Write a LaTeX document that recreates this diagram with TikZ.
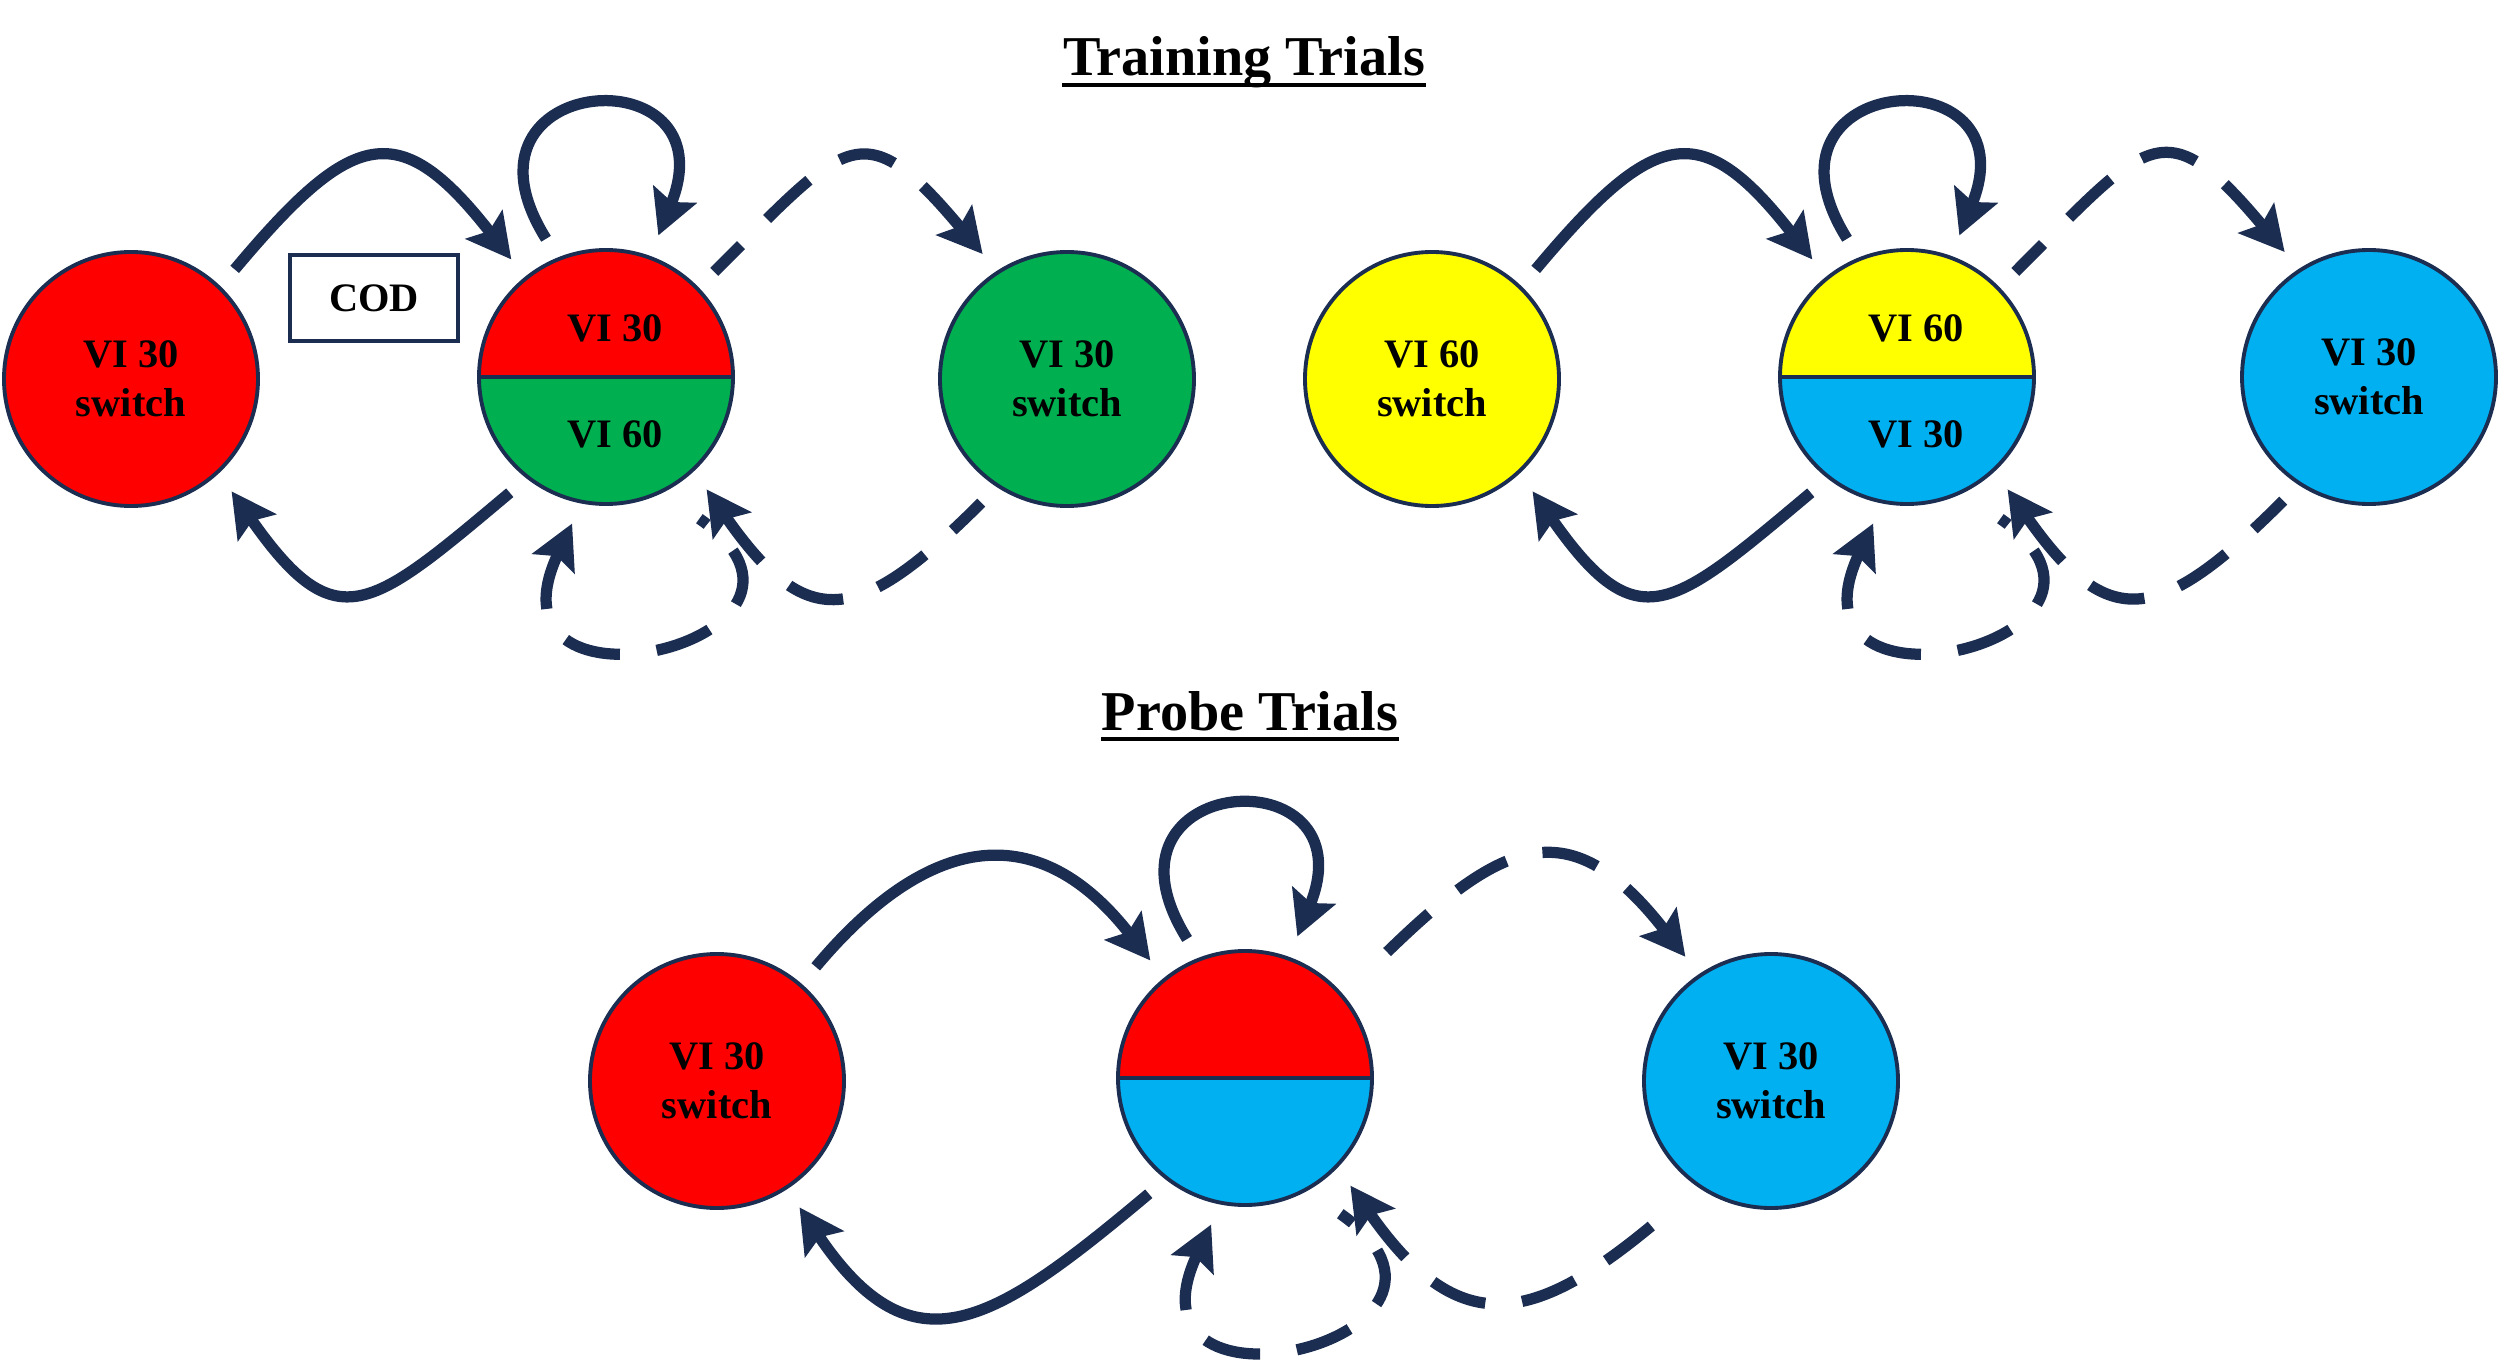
\documentclass[tikz,border=0pt]{standalone}
\usepackage{fontspec}
\setmainfont{Liberation Serif}
\usepackage{tikz}
\usetikzlibrary{calc}
\usetikzlibrary{arrows.meta}
\definecolor{navy}{RGB}{28,45,82}
\definecolor{vired}{RGB}{255,0,0}
\definecolor{vigreen}{RGB}{0,176,80}
\definecolor{viyellow}{RGB}{255,255,0}
\definecolor{viblue}{RGB}{0,176,240}
\newcommand{\statefont}{\fontsize{11.5}{13.9}\selectfont\bfseries}
\newcommand{\titlefont}{\fontsize{16}{19}\selectfont\bfseries}
\tikzset{
    state/.style={
        circle,
        draw=navy,
        line width=1.1pt,
        minimum size=2.54cm,
        inner sep=0pt,
        align=center,
        font=\statefont
    },
    % circle split in two colours, top one first
    halfstate/.style 2 args={
        state,
        fill=#2,
        path picture={
            \fill[#1] (path picture bounding box.north west) rectangle (path picture bounding box.east);
            \draw[navy,line width=1.1pt] (path picture bounding box.west) -- (path picture bounding box.east);
        }
    },
    lbl/.style={inner sep=0pt, font=\statefont},
    ttl/.style={inner sep=0pt, anchor=base, font=\titlefont},
    uline/.style={line width=1.2pt, black},
    codbox/.style={draw=navy, line width=1pt, minimum width=1.68cm, minimum height=0.86cm, font=\statefont},
    solidarrow/.style={
        navy,
        line width=3.2pt,
        -{Stealth[length=0.44cm, width=0.46cm, inset=0.08cm]},
        shorten <=0.22cm,
        shorten >=0.22cm
    },
    % drawn from head to tail, so that the dashes start at the head
    dashedarrow/.style={
        navy,
        line width=3.2pt,
        {Stealth[length=0.44cm, width=0.46cm, inset=0.08cm]}-,
        shorten <=0.22cm,
        shorten >=0.22cm,
        dash pattern=on 0.57cm off 0.37cm
    }
}
\begin{document}
\begin{tikzpicture}
    \useasboundingbox (0,0) rectangle (25,-13.6);

    % titles
    \node[ttl] (ttl1) at (12.44,-0.76) {Training Trials};
    \draw[uline] ([yshift=-0.09cm]ttl1.base west) -- ([yshift=-0.09cm]ttl1.base east);
    \node[ttl] (ttl2) at (12.50,-7.30) {Probe Trials};
    \draw[uline] ([yshift=-0.09cm]ttl2.base west) -- ([yshift=-0.09cm]ttl2.base east);

    % training, left
    \node[state,fill=vired] (L1) at (1.31,-3.79) {VI 30\\switch};
    \node[halfstate={vired}{vigreen}] (M1) at (6.06,-3.77) {};
    \node[lbl] (M1a) at ($(M1)+(0.09,0.49)$) {VI 30};
    \node[lbl] (M1b) at ($(M1)+(0.09,-0.57)$) {VI 60};
    \node[state,fill=vigreen] (R1) at (10.67,-3.79) {VI 30\\switch};
    \node[codbox] (cod) at (3.74,-2.98) {COD};

    \draw[solidarrow] (L1.46) to[out=50,in=128,looseness=1.72] (M1.129);
    \draw[solidarrow] (M1.232) to[out=-140,in=-55,looseness=1.7] (L1.313);
    \draw[solidarrow] (M1.112) to[out=122,in=68,distance=2.2cm] (M1.70);
    \draw[dashedarrow] (R1.123) to[out=130,in=45,looseness=1.8] (M1.44);
    \draw[dashedarrow] (M1.313) to[out=-55,in=-135,looseness=1.66] (R1.237);
    \draw[dashedarrow,shorten >=0.45cm] (M1.259) to[out=-115,in=-35,distance=2.55cm] (M1.296);

    % training, right
    \node[state,fill=viyellow] (L2) at (14.32,-3.79) {VI 60\\switch};
    \node[halfstate={viyellow}{viblue}] (M2) at (19.07,-3.77) {};
    \node[lbl] (M2a) at ($(M2)+(0.09,0.49)$) {VI 60};
    \node[lbl] (M2b) at ($(M2)+(0.09,-0.57)$) {VI 30};
    \node[state,fill=viblue] (R2) at (23.69,-3.77) {VI 30\\switch};

    \draw[solidarrow] (L2.46) to[out=50,in=128,looseness=1.72] (M2.129);
    \draw[solidarrow] (M2.232) to[out=-140,in=-55,looseness=1.7] (L2.313);
    \draw[solidarrow] (M2.112) to[out=122,in=68,distance=2.2cm] (M2.70);
    \draw[dashedarrow] (R2.123) to[out=130,in=45,looseness=1.8] (M2.44);
    \draw[dashedarrow] (M2.313) to[out=-55,in=-135,looseness=1.66] (R2.237);
    \draw[dashedarrow,shorten >=0.45cm] (M2.259) to[out=-115,in=-35,distance=2.55cm] (M2.296);

    % probe
    \node[state,fill=vired] (L3) at (7.17,-10.81) {VI 30\\switch};
    \node[halfstate={vired}{viblue}] (M3) at (12.45,-10.78) {};
    \node[state,fill=viblue] (R3) at (17.71,-10.81) {VI 30\\switch};

    \draw[solidarrow] (L3.49) to[out=50,in=128,looseness=1.42] (M3.129);
    \draw[solidarrow] (M3.232) to[out=-140,in=-56,looseness=1.52] (L3.303);
    \draw[solidarrow] (M3.111) to[out=122,in=68,distance=2.2cm] (M3.70);
    \draw[dashedarrow,shorten >=0.34cm] (R3.124) to[out=128,in=45,looseness=1.56] (M3.40);
    \draw[dashedarrow,shorten >=0.34cm] (M3.316) to[out=-55,in=-139,looseness=1.52] (R3.235);
    \draw[dashedarrow,shorten >=0.4cm] (M3.259) to[out=-115,in=-35,distance=2.55cm] (M3.299);
\end{tikzpicture}
\end{document}
